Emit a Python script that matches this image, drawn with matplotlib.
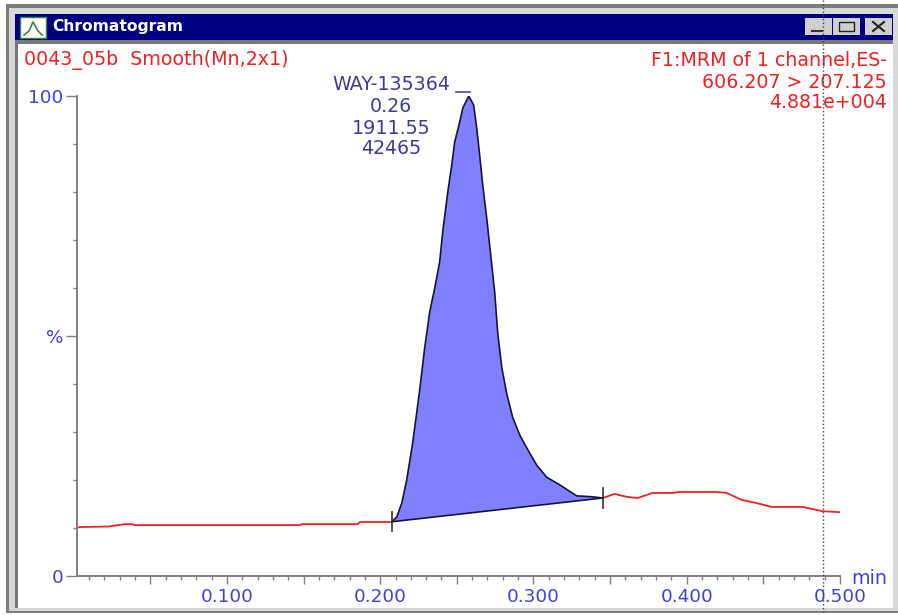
# chromatogram window, peak area shaded
import matplotlib
matplotlib.use("Agg")
import matplotlib.pyplot as plt
from matplotlib.lines import Line2D
from matplotlib.patches import Rectangle

W = 898
H = 615

# trace before the peak
left_x = [0.0022, 0.0042, 0.0224, 0.0289, 0.0335, 0.0381, 0.0400, 0.0824, 0.1476, 0.1489, 0.1854, 0.1867, 0.2063]
left_y = [10.0, 10.2, 10.3, 10.6, 10.8, 10.8, 10.6, 10.6, 10.6, 10.8, 10.8, 11.25, 11.25]

# the integrated peak
peak_x = [0.2076, 0.2108, 0.2141, 0.2173, 0.2212, 0.2258, 0.2291, 0.2304, 0.2323, 0.2356, 0.2388, 0.2408,
          0.2441, 0.2467, 0.2486, 0.2519, 0.2539, 0.2578, 0.2610, 0.2630, 0.2649, 0.2669, 0.2695, 0.2721,
          0.2747, 0.2767, 0.2793, 0.2825, 0.2864, 0.2910, 0.2956, 0.3021, 0.3086, 0.3171, 0.3282, 0.3386, 0.3452]
peak_y = [11.3, 12.3, 15.2, 20.0, 27.7, 38.8, 47.7, 50.6, 55.0, 60.0, 65.4, 71.7,
          80.0, 85.6, 90.4, 94.6, 97.5, 100.0, 98.1, 93.3, 87.7, 81.5, 74.6, 66.9,
          59.2, 50.6, 43.5, 38.1, 33.1, 29.4, 26.7, 23.1, 20.6, 19.0, 16.7, 16.5, 16.25]

# trace after the peak
right_x = [0.3452, 0.3529, 0.3608, 0.3679, 0.3777, 0.3907, 0.3953, 0.4194, 0.4259, 0.4364, 0.4455, 0.4553, 0.4755, 0.4885, 0.5000]
right_y = [16.25, 17.1, 16.5, 16.25, 17.3, 17.3, 17.5, 17.5, 17.3, 15.8, 15.2, 14.4, 14.4, 13.5, 13.3]

peak_label = ["WAY-135364", "0.26", "1911.55", "42465"]
channel_label = ["F1:MRM of 1 channel,ES-", "606.207 > 207.125", "4.881e+004"]

RED = "#f02020"
BLUE = "#4040e0"
NAVY = "#3c3c98"
FILL = "#8080ff"
font = "DejaVu Sans"


def fx(x):
    return x / W


def fy(y):
    return 1 - y / H


def box(x0, y0, x1, y1, color, edge="none", z=-1):
    # rectangle given in image pixels, y going down
    r = Rectangle((fx(x0), fy(y1)), (x1 - x0) / W, (y1 - y0) / H, transform=fig.transFigure,
                  facecolor=color, edgecolor=edge, linewidth=1, zorder=z)
    fig.add_artist(r)


def label(x, y, s, color, ha="left", size=13.7, weight="normal"):
    fig.text(fx(x), fy(y), s, color=color, ha=ha, va="center", fontsize=size, family=font, fontweight=weight)


def seg(xs, ys, color, lw=1.0, ls="-", z=4):
    fig.add_artist(Line2D([fx(v) for v in xs], [fy(v) for v in ys], color=color, lw=lw, ls=ls,
                          transform=fig.transFigure, zorder=z))


fig = plt.figure(figsize=(W / 100, H / 100), dpi=100)
fig.patch.set_facecolor("white")

# window frame
box(6, 4, 898, 613, "#7c7c7c")
box(9, 8, 898, 611, "#d8d8d8")
box(15, 14, 893, 44, "#808080")
box(15, 14, 893, 40, "#000080")
box(15, 40, 893, 608, "#777777")
box(18, 44, 893, 608, "white")

# title bar
box(20, 17, 46, 38, "white", edge="#2e8b3e")
seg([24, 29, 33, 38, 42], [35, 31, 22, 31, 35], "#2e8b3e", lw=1.2)
label(52, 27, "Chromatogram", "white", size=11.2, weight="bold")
for x0 in [805, 833, 865]:
    box(x0, 18, x0 + 27, 35, "#cfcfcf")
seg([812, 822], [31, 31], "#333333", lw=1.5)
box(839, 22, 854, 31, "none", edge="#222222", z=3)
seg([873, 884], [22, 31], "#222222", lw=1.5)
seg([873, 884], [31, 22], "#222222", lw=1.5)

# plot area, x from 0.0025 to 0.500 min
ax = fig.add_axes([77 / W, 1 - 576 / H, (840 - 77) / W, (576 - 96) / H])
ax.patch.set_visible(False)
ax.set_xlim(0.0022, 0.5)
ax.set_ylim(0, 100)
for s in ["top", "right"]:
    ax.spines[s].set_visible(False)
for s in ["left", "bottom"]:
    ax.spines[s].set_color("#808080")
    ax.spines[s].set_linewidth(1.4)

ax.plot(left_x, left_y, color=RED, lw=1.3)
ax.plot(right_x, right_y, color=RED, lw=1.3)
ax.fill(peak_x, peak_y, color=FILL, lw=0)
ax.plot(peak_x, peak_y, color="#15153c", lw=1.2)
ax.plot([peak_x[0], peak_x[-1]], [peak_y[0], peak_y[-1]], color="#15153c", lw=1.2)

# integration limits and apex mark
for i in [0, -1]:
    ax.plot([peak_x[i], peak_x[i]], [peak_y[i] - 2, peak_y[i] + 2], color="#333333", lw=1.2, clip_on=False)
ax.plot([0.2493, 0.2585], [100.8, 100.8], color=NAVY, lw=1.1, clip_on=False)

ax.set_xticks([0.05, 0.10, 0.15, 0.20, 0.25, 0.30, 0.35, 0.40, 0.45, 0.50])
ax.set_xticklabels(["", "0.100", "", "0.200", "", "0.300", "", "0.400", "", "0.500"])
ax.set_xticks([v / 100 for v in range(1, 50) if v % 5 != 0], minor=True)
ax.set_yticks([0, 50, 100])
ax.set_yticklabels(["0", "%", "100"])
ax.set_yticks([10, 20, 30, 40, 60, 70, 80, 90], minor=True)
ax.tick_params(axis="x", which="major", length=6, width=1, color="#808080", labelcolor=BLUE, pad=3, labelsize=13.2)
ax.tick_params(axis="x", which="minor", length=3, width=1, color="#808080")
ax.tick_params(axis="y", which="major", length=8, width=1, color="#808080", labelcolor=BLUE, pad=2, labelsize=13.2)
ax.tick_params(axis="y", which="minor", length=3, width=1, color="#808080")
for t in ax.get_xticklabels() + ax.get_yticklabels():
    t.set_family(font)

# header and annotation text
label(24, 60, "0043_05b  Smooth(Mn,2x1)", RED)
for y, s in zip([60, 82, 103], channel_label):
    label(887, y, s, RED, ha="right")
for y, s in zip([85, 106, 128, 149], peak_label):
    label(391, y, s, NAVY, ha="center")
label(851, 578, "min", BLUE)

# cursor
seg([823, 823], [0, 615], "#444444", lw=1.0, ls=":", z=5)

fig.savefig("out.png", dpi=100)
